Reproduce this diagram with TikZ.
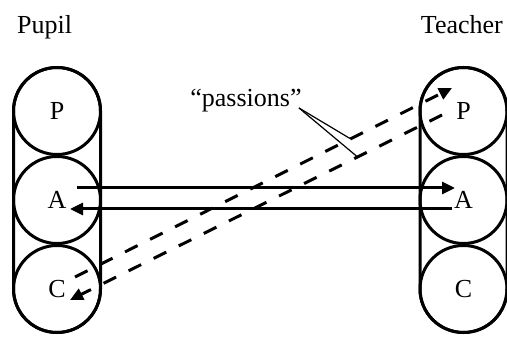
\documentclass[tikz,border=0pt]{standalone}
\usepackage{fontspec}
\setmainfont{Liberation Serif}
\usetikzlibrary{arrows.meta}
\begin{document}
\begin{tikzpicture}[x=1pt,y=-1pt,
  ring/.style={circle,draw,line width=3pt,minimum size=87pt,inner sep=0pt,font=\fontsize{26}{30}\selectfont},
  colbox/.style={line width=3pt,rounded corners=43.5pt},
  solidarrow/.style={line width=3pt,-{Triangle[length=13pt,width=12pt]}},
  dasharrow/.style={line width=3pt,dash pattern=on 14pt off 14pt,-{Triangle[length=13pt,width=12pt]}},
  lbl/.style={inner sep=0pt,font=\fontsize{26}{30}\selectfont},
  pointer/.style={line width=1.2pt}]
\useasboundingbox (0,0) rectangle (507,339);
% titles
\node[lbl,anchor=base west] (pupil) at (17,34) {Pupil};
\node[lbl,anchor=base east] (teacher) at (503,34) {Teacher};
% left column
\draw[colbox] (13.5,67.5) rectangle (100.5,332.5);
\node[ring] (lP) at (57,111) {P};
\node[ring] (lA) at (57,200) {A};
\node[ring] (lC) at (57,289) {C};
% right column
\draw[colbox] (420,67.5) rectangle (507,332.5);
\node[ring] (rP) at (463.5,111) {P};
\node[ring] (rA) at (463.5,200) {A};
\node[ring] (rC) at (463.5,289) {C};
% connector ends
\coordinate (a1s) at (77,188);
\coordinate (a1e) at (455,188);
\coordinate (a2s) at (452,209);
\coordinate (a2e) at (70,209);
\coordinate (d1s) at (75,277);
\coordinate (d1e) at (452,88);
\coordinate (d2s) at (442,115);
\coordinate (d2e) at (70,300);
\draw[solidarrow] (a1s) -- (a1e);
\draw[solidarrow] (a2s) -- (a2e);
\draw[dasharrow] (d1s) -- (d1e);
\draw[dasharrow] (d2s) -- (d2e);
% label
\node[lbl] (passions) at (246,101) {“passions”};
\coordinate (pq) at (299,108);
\coordinate (pt1) at (350,138.5);
\coordinate (pt2) at (357,156.5);
\draw[pointer] (pq) -- (pt1);
\draw[pointer] (pq) -- (pt2);
\end{tikzpicture}
\end{document}
